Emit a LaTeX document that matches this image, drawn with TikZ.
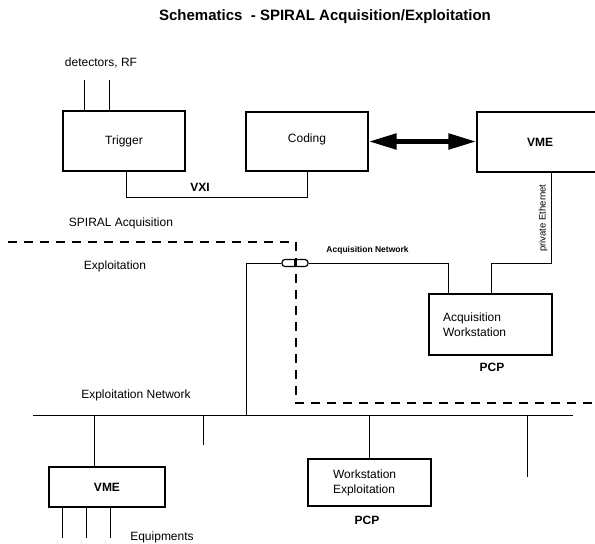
\documentclass[tikz,border=0pt]{standalone}
\usepackage{fontspec}
\setmainfont{Liberation Sans}
\usetikzlibrary{arrows.meta}
\begin{document}
\begin{tikzpicture}[x=1pt,y=-1pt,line width=0.9pt,
    box/.style={rectangle,draw,line width=1.1pt,inner sep=0pt,font=\fontsize{12}{15}\selectfont},
    lbl/.style={inner sep=0pt,font=\fontsize{12}{15}\selectfont},
    blbl/.style={inner sep=0pt,font=\fontsize{12}{15}\selectfont\bfseries}]
  \useasboundingbox (0,0) rectangle (595,544);
  \clip (0,0) rectangle (595,544);
  % title
  \node[inner sep=0pt,font=\fontsize{15}{18}\selectfont\bfseries] (title) at (325,17) {Schematics \ - SPIRAL Acquisition/Exploitation};
  % acquisition crate
  \node[box,minimum width=122pt,minimum height=60pt] (trigger) at (124,141) {Trigger};
  \node[box,minimum width=122pt,minimum height=59pt,text depth=6pt] (coding) at (307,141.5) {Coding};
  \node[box,minimum width=126pt,minimum height=60pt,font=\fontsize{12}{15}\selectfont\bfseries] (vme) at (540,142) {VME};
  \node[lbl] (det) at (101,63) {detectors, RF};
  \foreach \x in {84,109}
    \draw (\x,0 |- trigger.north) -- ++(0,-30);
  \draw ([xshift=2pt]trigger.south) -- ++(0,26) -| (coding.south);
  \node[blbl] (vxi) at (200,187) {VXI};
  \draw[{Triangle[length=28pt,width=15pt]}-{Triangle[length=28pt,width=15pt]},line width=5pt]
    (coding.east) -- (coding.east -| vme.west);
  % acquisition workstation
  \node[box,minimum width=123pt,minimum height=61pt,text width=95pt,align=left] (acq) at (490.5,324.5) {Acquisition\\Workstation};
  \node[blbl] (pcp1) at (492,367) {PCP};
  \draw ([xshift=11pt]vme.south) -- node[rotate=90,anchor=south,inner sep=3pt,font=\fontsize{9.5}{11}\selectfont]{private Ethernet} ++(0,91) -| ([xshift=0.5pt]acq.north);
  \node[draw,rounded corners=3pt,line width=1.2pt,minimum width=26pt,minimum height=7pt,inner sep=0pt] (conn) at (295,263) {};
  \draw[line width=1.2pt] (conn.north) -- (conn.south);
  \draw (conn.east) -| ([xshift=-42.5pt]acq.north);
  \node[inner sep=0pt,anchor=west,font=\fontsize{8.5}{10}\selectfont\bfseries] (acqnet) at (326,250) {Acquisition Network};
  % border between the two parts
  \draw[dash pattern=on 9pt off 7pt,line width=1.1pt] (8,242) -- (296,242) -- (296,403) -- (600,403);
  \node[lbl] (spiral) at (121,223) {SPIRAL Acquisition};
  \node[lbl] (expl) at (115,266) {Exploitation};
  % exploitation network
  \coordinate (netL) at (33,415);
  \coordinate (netR) at (573,415);
  \draw (netL) -- (netR);
  \node[lbl] (explnet) at (136,395) {Exploitation Network};
  \coordinate (up) at (246,415);
  \draw (conn.west) -| (up);
  \node[box,minimum width=116pt,minimum height=40pt,font=\fontsize{12}{15}\selectfont\bfseries] (vmex) at (107,487) {VME};
  \node[box,minimum width=123pt,minimum height=47pt,text width=73pt,align=left] (ws) at (369.5,482.5) {Workstation\\Exploitation};
  \node[blbl] (pcp2) at (367,520) {PCP};
  \coordinate (t1) at (94,415);
  \coordinate (t3) at (369,415);
  \draw (t1) -- (t1 |- vmex.north);
  \draw (t3) -- (t3 |- ws.north);
  \draw (203,415) -- ++(0,30);
  \draw (527,415) -- ++(0,62);
  \foreach \x in {62,86,110}
    \draw (\x,0 |- vmex.south) -- ++(0,30);
  \node[lbl] (equip) at (162,537) {Equipments};
\end{tikzpicture}
\end{document}
